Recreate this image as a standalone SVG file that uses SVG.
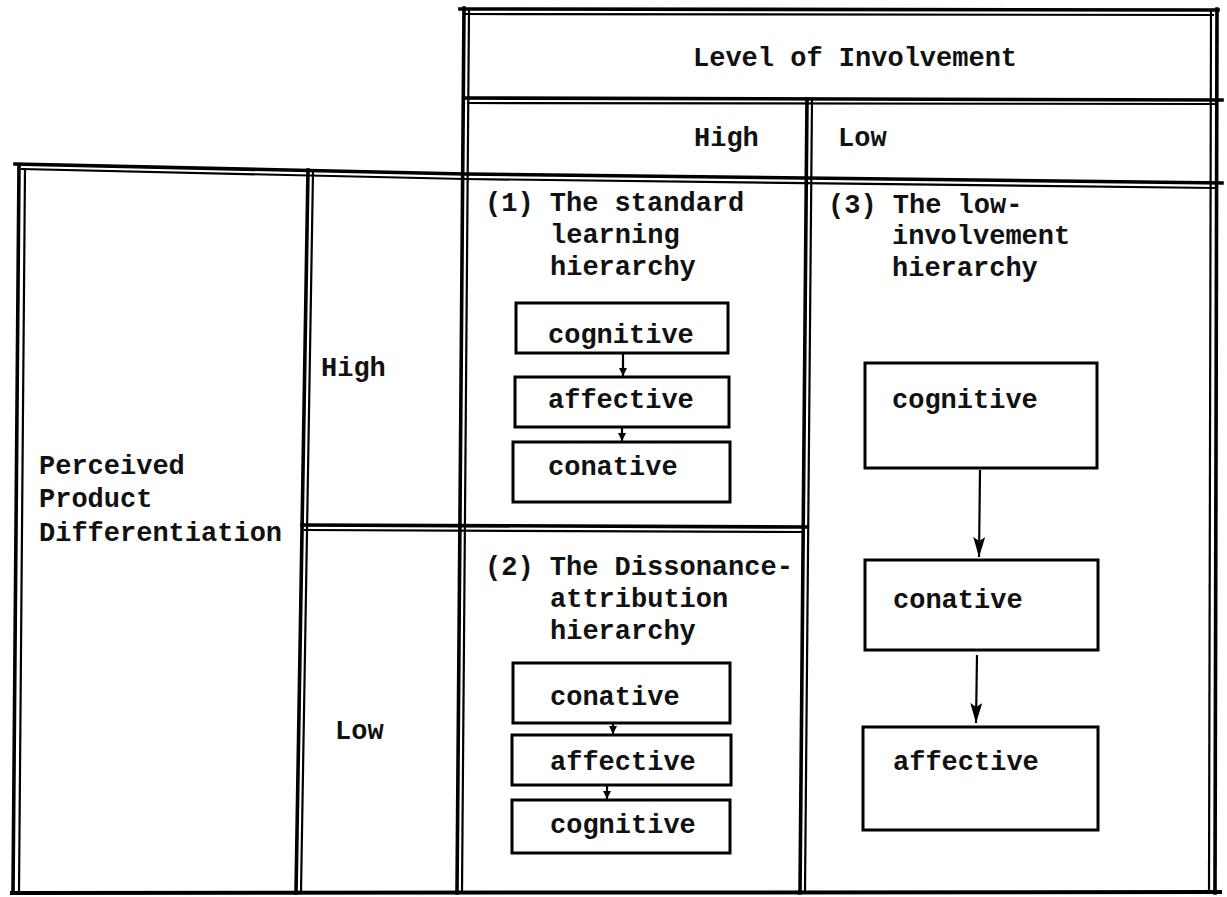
<svg xmlns="http://www.w3.org/2000/svg" width="1227" height="897" viewBox="0 0 1227 897">
  <defs>
    <style>
      .t { font-family: "Liberation Mono", "DejaVu Sans Mono", monospace; font-size: 27px; font-weight: bold; fill: #111; }
      .rule { stroke: #000; fill: none; stroke-linecap: square; }
      .heavy { stroke-width: 3.6; }
      .light { stroke-width: 2.2; }
      .box { fill: #fff; stroke: #000; stroke-width: 3; }
      .conn { stroke: #000; stroke-width: 2.2; fill: none; }
    </style>
    <marker id="tip" viewBox="0 0 20 12" refX="20" refY="6" markerWidth="20" markerHeight="12" orient="auto" markerUnits="userSpaceOnUse">
      <path d="M0,0 L20,6 L0,12 L4,6 Z" fill="#000"/>
    </marker>
    <marker id="tipSmall" viewBox="0 0 10 10" refX="10" refY="5" markerWidth="8" markerHeight="8" orient="auto" markerUnits="userSpaceOnUse">
      <path d="M0,0 L10,5 L0,10 Z" fill="#000"/>
    </marker>
  </defs>

  <rect width="1227" height="897" fill="#fff"/>

  <!-- table frame: double rules -->
  <g id="frame">
    <!-- header box top -->
    <line class="rule heavy" x1="460" y1="9" x2="1218" y2="10"/>
    <line class="rule light" x1="466" y1="14" x2="1213" y2="15"/>
    <!-- header divider -->
    <line class="rule heavy" x1="465" y1="98" x2="1222" y2="100"/>
    <line class="rule light" x1="468" y1="103" x2="1214" y2="104"/>
    <!-- grid top -->
    <polyline class="rule heavy" points="15,164 465,174 1222,183"/>
    <polyline class="rule light" points="22,169 465,179 1214,188"/>
    <!-- high/low divider in the high-involvement column -->
    <line class="rule heavy" x1="302" y1="525" x2="806" y2="527"/>
    <line class="rule light" x1="305" y1="530" x2="803" y2="532"/>
    <!-- bottom -->
    <line class="rule heavy" x1="12" y1="893" x2="1220" y2="892" style="stroke-width:4"/>

    <!-- left outer edge -->
    <line class="rule heavy" x1="19" y1="165" x2="13" y2="893"/>
    <line class="rule light" x1="25" y1="169" x2="19" y2="892"/>
    <!-- row-label column edge -->
    <line class="rule heavy" x1="308" y1="170" x2="296" y2="893"/>
    <line class="rule light" x1="313" y1="172" x2="301" y2="892"/>
    <!-- high-involvement column left edge -->
    <line class="rule heavy" x1="464" y1="8" x2="457" y2="893"/>
    <line class="rule light" x1="469" y1="10" x2="462" y2="892"/>
    <!-- column divider high / low -->
    <line class="rule heavy" x1="807" y1="99" x2="800" y2="893"/>
    <line class="rule light" x1="812" y1="100" x2="805" y2="892"/>
    <!-- right outer edge -->
    <line class="rule light" x1="1211" y1="10" x2="1209" y2="892"/>
    <line class="rule heavy" x1="1217" y1="9" x2="1215" y2="893"/>
  </g>

  <!-- column headers -->
  <g id="header-involvement">
    <text class="t" x="693" y="66">Level of Involvement</text>
  </g>
  <g id="header-high">
    <text class="t" x="694" y="146">High</text>
  </g>
  <g id="header-low">
    <text class="t" x="838" y="146">Low</text>
  </g>

  <!-- row headers -->
  <g id="row-title">
    <text class="t" x="39" y="474">Perceived</text>
    <text class="t" x="39" y="507">Product</text>
    <text class="t" x="39" y="541">Differentiation</text>
  </g>
  <g id="row-high">
    <text class="t" x="321" y="376">High</text>
  </g>
  <g id="row-low">
    <text class="t" x="335" y="739">Low</text>
  </g>

  <!-- cell (1): standard learning hierarchy -->
  <g id="cell1-title">
    <text class="t" x="485" y="211">(1) The standard</text>
    <text class="t" x="550" y="243">learning</text>
    <text class="t" x="550" y="275">hierarchy</text>
  </g>
  <g id="c1-cognitive">
    <rect class="box" x="516" y="303" width="212" height="50"/>
    <text class="t" x="548" y="343">cognitive</text>
  </g>
  <g id="c1-affective">
    <rect class="box" x="515" y="377" width="214" height="50"/>
    <text class="t" x="548" y="408">affective</text>
  </g>
  <g id="c1-conative">
    <rect class="box" x="513" y="442" width="217" height="60"/>
    <text class="t" x="548" y="475">conative</text>
  </g>

  <!-- cell (2): dissonance-attribution hierarchy -->
  <g id="cell2-title">
    <text class="t" x="485" y="575">(2) The Dissonance-</text>
    <text class="t" x="550" y="607">attribution</text>
    <text class="t" x="550" y="639">hierarchy</text>
  </g>
  <g id="c2-conative">
    <rect class="box" x="513" y="663" width="217" height="60"/>
    <text class="t" x="550" y="705">conative</text>
  </g>
  <g id="c2-affective">
    <rect class="box" x="512" y="735" width="219" height="50"/>
    <text class="t" x="550" y="770">affective</text>
  </g>
  <g id="c2-cognitive">
    <rect class="box" x="512" y="800" width="218" height="53"/>
    <text class="t" x="550" y="833">cognitive</text>
  </g>

  <!-- cell (3): low-involvement hierarchy -->
  <g id="cell3-title">
    <text class="t" x="828" y="213">(3) The low-</text>
    <text class="t" x="892" y="244">involvement</text>
    <text class="t" x="892" y="276">hierarchy</text>
  </g>
  <g id="c3-cognitive">
    <rect class="box" x="865" y="363" width="232" height="105"/>
    <text class="t" x="892" y="408">cognitive</text>
  </g>
  <g id="c3-conative">
    <rect class="box" x="865" y="560" width="233" height="90"/>
    <text class="t" x="893" y="608">conative</text>
  </g>
  <g id="c3-affective">
    <rect class="box" x="863" y="727" width="235" height="103"/>
    <text class="t" x="893" y="770">affective</text>
  </g>

  <!-- connectors -->
  <g id="connectors">
    <line class="conn" x1="623" y1="354" x2="623" y2="376" marker-end="url(#tipSmall)"/>
    <line class="conn" x1="622" y1="428" x2="622" y2="441" marker-end="url(#tipSmall)"/>
    <line class="conn" x1="613" y1="724" x2="613" y2="734" marker-end="url(#tipSmall)"/>
    <line class="conn" x1="607" y1="786" x2="607" y2="799" marker-end="url(#tipSmall)"/>
    <line class="conn" x1="980" y1="470" x2="979" y2="557" marker-end="url(#tip)"/>
    <line class="conn" x1="977" y1="655" x2="976" y2="723" marker-end="url(#tip)"/>
  </g>
</svg>
